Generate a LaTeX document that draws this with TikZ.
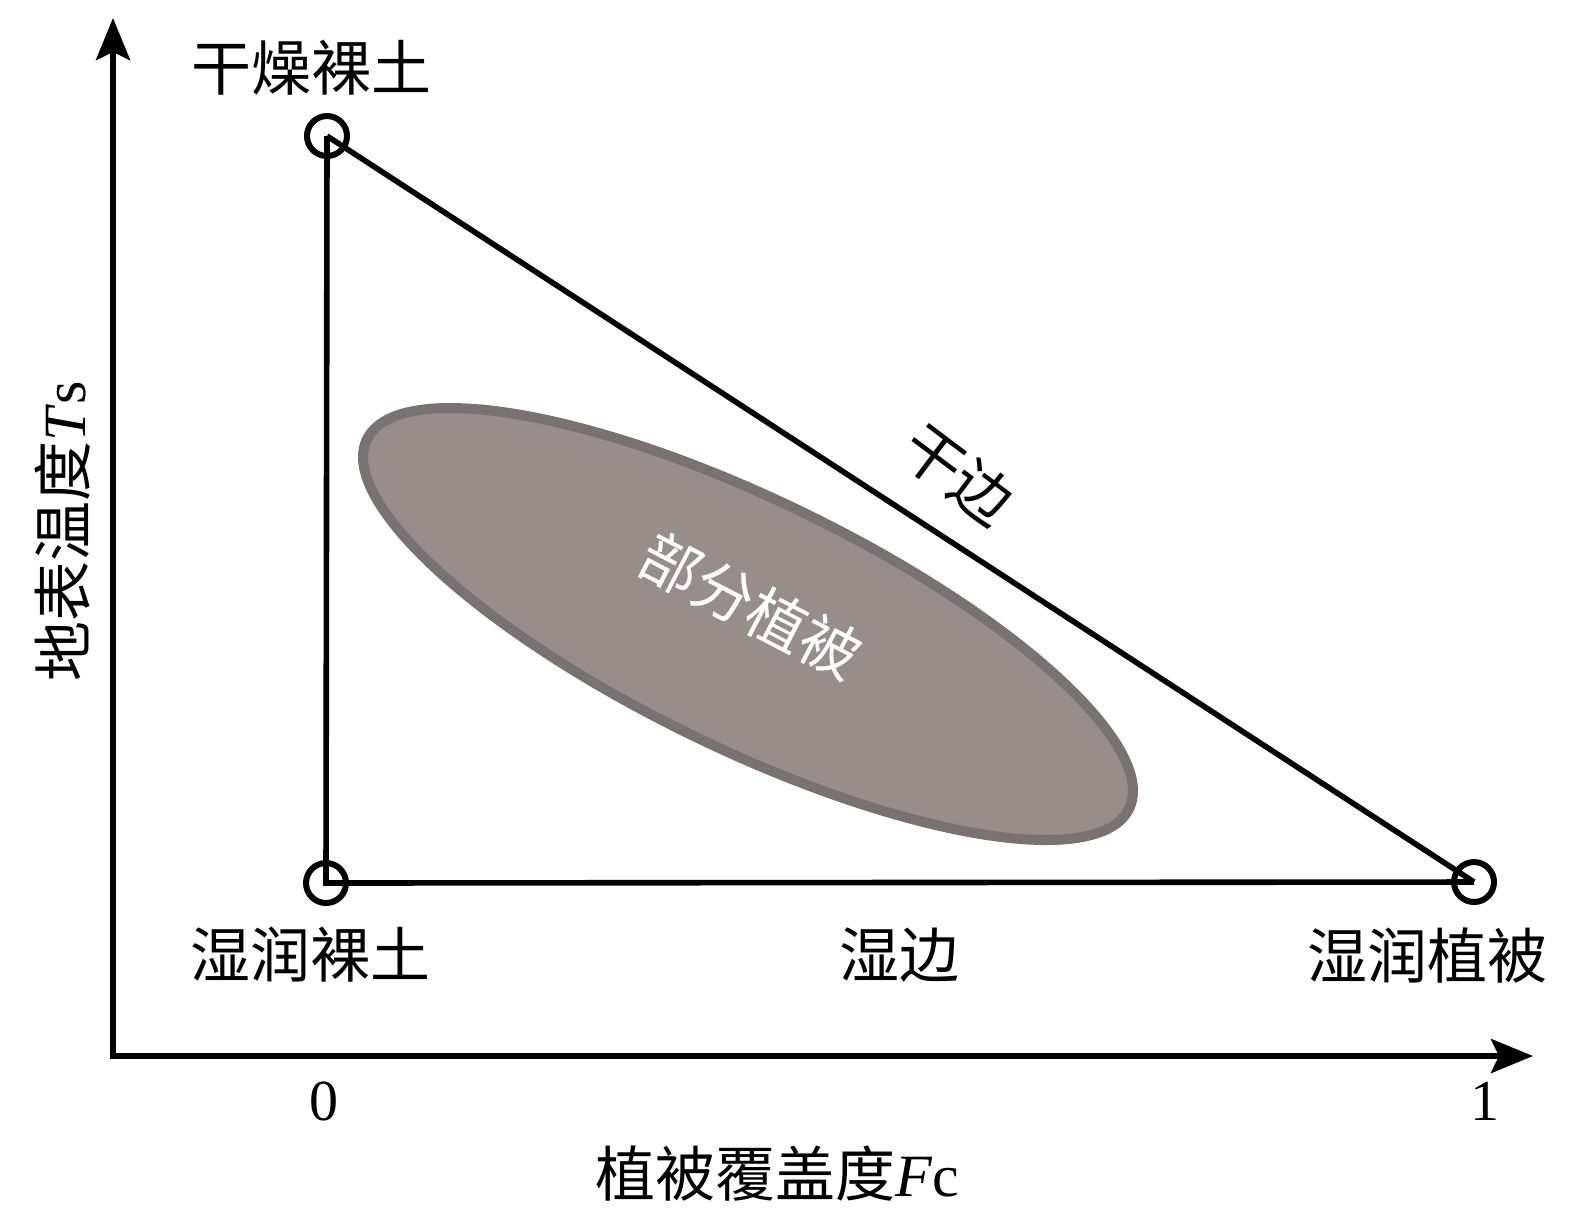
\documentclass[tikz,border=0pt]{standalone}
\usepackage{fontspec}
\setmainfont{Liberation Serif}
\newfontfamily\cjk{Noto Sans CJK SC}
\usetikzlibrary{arrows.meta,shapes.geometric}
\definecolor{vegfill}{RGB}{151,142,140}
\definecolor{vegedge}{RGB}{122,114,114}

\begin{document}
\begin{tikzpicture}[x=0.5pt,y=-0.5pt,
    every node/.style={inner sep=0pt},
    lbl/.style={font=\fontsize{30}{36}\selectfont\cjk},
    num/.style={font=\fontsize{29}{34}\selectfont},
    vtx/.style={circle,draw,line width=3pt,minimum size=20pt},
    axis/.style={line width=3pt,-{Stealth[length=21pt,width=17pt,inset=4pt]}},
    edge/.style={line width=2.8pt}]
    \useasboundingbox[fill=white] (0,0) rectangle (1577,1223);

    % Axes
    \coordinate (O) at (113,1056);
    \coordinate (ytip) at (113,18);
    \coordinate (xtip) at (1533,1056);
    \draw[axis] (O) -- (ytip);
    \draw[axis] ([xshift=-1.5pt]O) -- (xtip);

    % Partial vegetation region
    \node[ellipse,draw=vegedge,fill=vegfill,line width=5pt,
      minimum width=423.5pt,minimum height=124.5pt,rotate=-25.85]
      (veg) at (748,624) {};
    \node[lbl,text=white,rotate=-27.5] (vegtxt) at (751,606) {部分植被};

    % Triangle corners
    \node[vtx] (drysoil) at (327,136) {};
    \node[vtx] (wetsoil) at (326,883) {};
    \node[vtx] (wetveg)  at (1474,882) {};

    % Dry edge and wet edge
    \draw[edge] (drysoil.center) -- (wetsoil.center) -- (wetveg.center);
    \draw[edge] (drysoil.center) -- (wetveg.center);

    % Corner and edge labels
    \node[lbl] (drysoillbl) at (311,68)  {干燥裸土};
    \node[lbl] (wetsoillbl) at (310,955) {湿润裸土};
    \node[lbl] (wetedgelbl) at (899,955) {湿边};
    \node[lbl] (wetveglbl)  at (1427,955) {湿润植被};
    \node[lbl,rotate=-37] (dryedgelbl) at (958,475) {干边};

    % Axis ticks and titles
    \node[num] (zero) at (324,1101) {0};
    \node[num] (one)  at (1485,1101) {1};
    \node[font=\fontsize{30}{36}\selectfont] (xtitle) at (777,1174)
      {{\cjk 植被覆盖度}\textit{F}c};
    \node[font=\fontsize{30}{36}\selectfont,rotate=90] (ytitle) at (63,531)
      {{\cjk 地表温度}\textit{T}s};

  \end{tikzpicture}
\end{document}
